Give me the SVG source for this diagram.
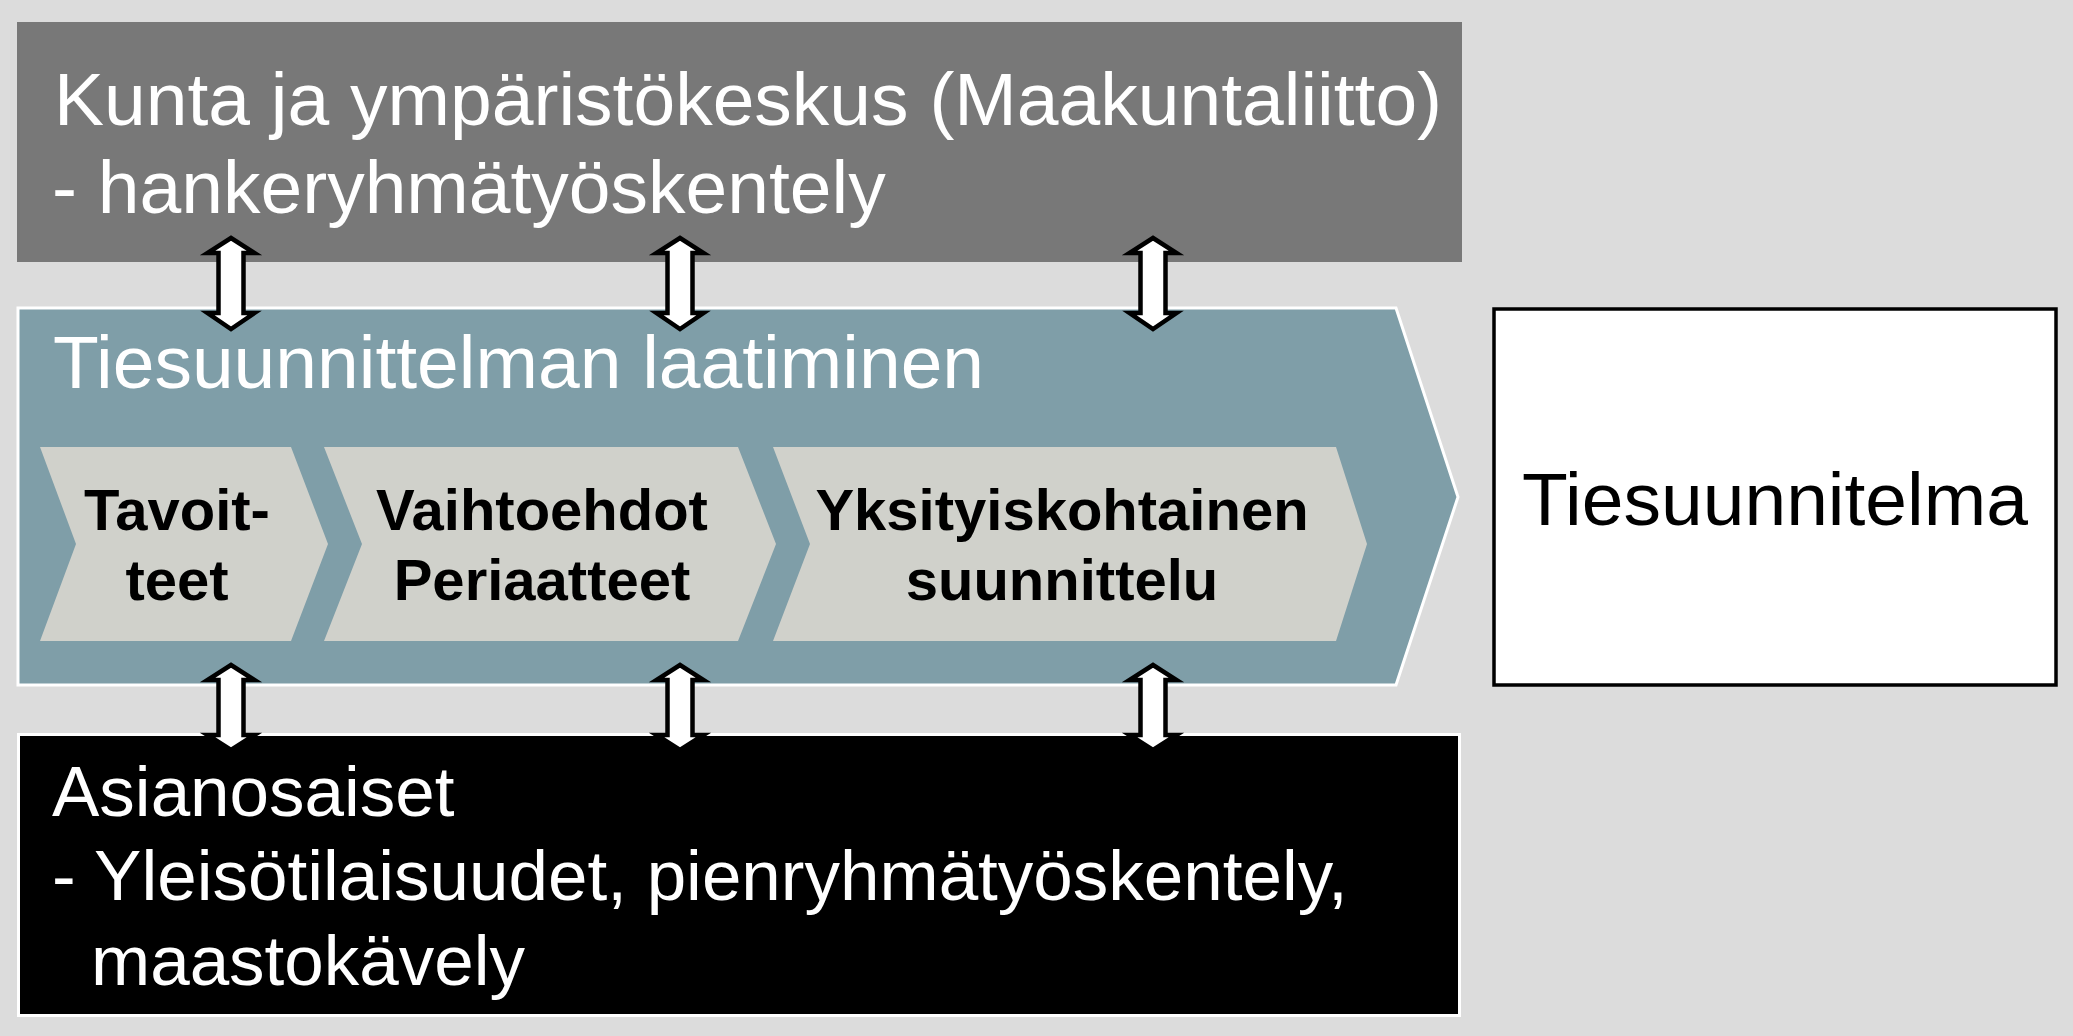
<svg xmlns="http://www.w3.org/2000/svg" width="2073" height="1036" viewBox="0 0 2073 1036">
<defs>
<style>
.t{font-family:"Liberation Sans",Arial,sans-serif;font-size:75px;}
.s{font-size:71px;}
.w{fill:#ffffff;}
.k{fill:#000000;}
.b{font-family:"Liberation Sans",Arial,sans-serif;font-size:58px;font-weight:bold;fill:#000000;text-anchor:middle;}
.arr{fill:#ffffff;stroke:#000000;stroke-width:4.5;stroke-linejoin:miter;}
.step{fill:#d0d1cb;}
</style>
</defs>
<rect x="0" y="0" width="2073" height="1036" fill="#dcdcdc"/>
<g id="kunta">
<rect x="17" y="22" width="1445" height="240" fill="#787878"/>
<text class="t w" x="54" y="125">Kunta ja ympäristökeskus (Maakuntaliitto)</text>
<text class="t w" x="52" y="213">- hankeryhmätyöskentely</text>
</g>
<g id="laatiminen">
<polygon points="18,308 1396,308 1458,497 1396,685 18,685" fill="#7f9ea8" stroke="#ffffff" stroke-width="3"/>
<text class="t w" x="53" y="388">Tiesuunnittelman laatiminen</text>
</g>
<g id="tavoitteet">
<polygon class="step" points="40,447 291,447 328,544 291,641 40,641 76,544"/>
<text class="b" x="177" y="530">Tavoit-</text>
<text class="b" x="177" y="600">teet</text>
</g>
<g id="vaihtoehdot">
<polygon class="step" points="324,447 738,447 776,544 738,641 324,641 362,544"/>
<text class="b" x="542" y="530">Vaihtoehdot</text>
<text class="b" x="542" y="600">Periaatteet</text>
</g>
<g id="yksityiskohtainen">
<polygon class="step" points="773,447 1336,447 1367,544 1336,641 773,641 810,544"/>
<text class="b" x="1062" y="530">Yksityiskohtainen</text>
<text class="b" x="1062" y="600">suunnittelu</text>
</g>
<g id="tiesuunnitelma">
<rect x="1494" y="309" width="562" height="376" fill="#ffffff" stroke="#000000" stroke-width="3.5"/>
<text class="t k" x="1775" y="525" text-anchor="middle">Tiesuunnitelma</text>
</g>
<g id="asianosaiset">
<rect x="18.5" y="734.5" width="1441" height="281" fill="#000000" stroke="#ffffff" stroke-width="3"/>
<text class="t s w" x="52" y="816">Asianosaiset</text>
<text class="t s w" x="52" y="900">- Yleisötilaisuudet, pienryhmätyöskentely,</text>
<text class="t s w" x="91" y="985">maastokävely</text>
</g>
<g id="connectors">
<path class="arr" d="M231,238 L254.5,253 L243.5,253 L243.5,313 L254.5,313 L231,329 L207.5,313 L218.5,313 L218.5,253 L207.5,253 Z"/>
<path class="arr" d="M680,238 L703.5,253 L692.5,253 L692.5,313 L703.5,313 L680,329 L656.5,313 L667.5,313 L667.5,253 L656.5,253 Z"/>
<path class="arr" d="M1153,238 L1176.5,253 L1165.5,253 L1165.5,313 L1176.5,313 L1153,329 L1129.5,313 L1140.5,313 L1140.5,253 L1129.5,253 Z"/>
<path class="arr" d="M231,665 L254.5,680 L243.5,680 L243.5,735 L254.5,735 L231,750 L207.5,735 L218.5,735 L218.5,680 L207.5,680 Z"/>
<path class="arr" d="M680,665 L703.5,680 L692.5,680 L692.5,735 L703.5,735 L680,750 L656.5,735 L667.5,735 L667.5,680 L656.5,680 Z"/>
<path class="arr" d="M1153,665 L1176.5,680 L1165.5,680 L1165.5,735 L1176.5,735 L1153,750 L1129.5,735 L1140.5,735 L1140.5,680 L1129.5,680 Z"/>
</g>
</svg>
